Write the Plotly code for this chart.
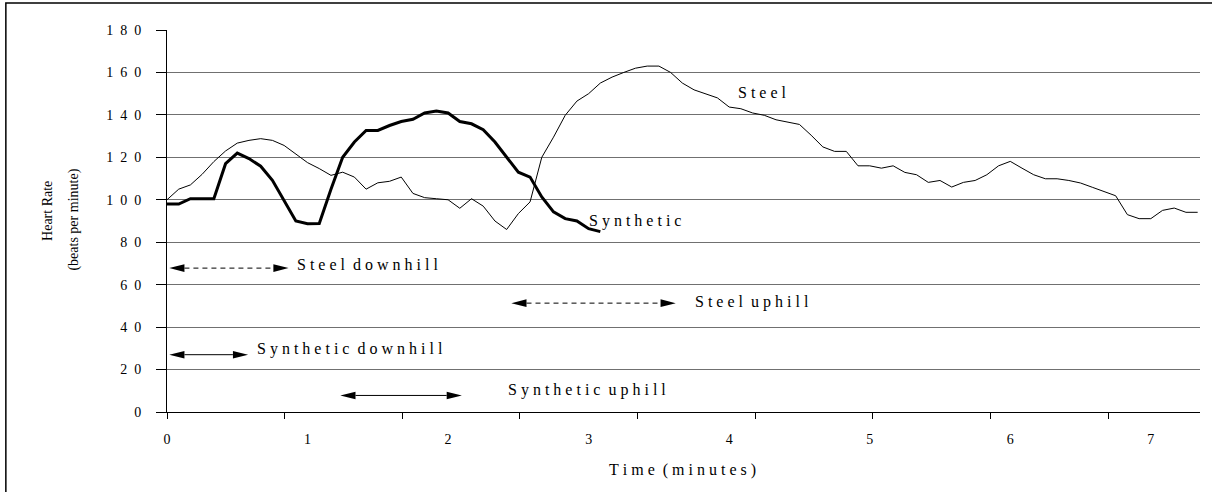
"""
Heart rate while walking on steel vs synthetic surfaces
"""

import plotly.graph_objects as go

# heart rate samples, one every 5 seconds (beats per minute)
SAMPLE_SECONDS = 5

STEEL_HR = [
    100, 105, 107, 112, 118, 123, 126.7, 128, 128.8, 128, 125.6, 121.7,
    117.5, 114.7, 111.5, 113, 110.7, 105, 108, 108.7, 110.7, 103, 101, 100.5,
    100, 96, 100.5, 97, 90, 86, 93.5, 99, 120, 129.5, 139.8, 146.5,
    150, 155, 157.8, 160, 162, 163, 163, 160, 155, 151.8, 150, 148,
    143.7, 142.9, 140.9, 139.8, 137.7, 136.6, 135.5, 130.4, 124.9, 122.8, 122.8, 116,
    116, 114.9, 116, 112.9, 111.8, 108.2, 109.1, 106, 108.2, 109.1, 111.8, 116,
    118.1, 114.9, 111.8, 109.9, 109.9, 109.1, 107.9, 105.9, 103.8, 101.9, 93, 91.1,
    91.1, 95, 96.1, 94.1, 94.1,
]

SYNTHETIC_HR = [
    98, 98, 100.5, 100.5, 100.5, 117, 122, 119.4, 115.8, 109.2, 99.8, 90,
    88.7, 88.8, 105, 120, 127.2, 132.7, 132.7, 135, 136.9, 137.9, 140.9, 141.8,
    140.9, 136.9, 135.8, 133, 127.2, 120, 113, 110.7, 101.3, 94.3, 91.1, 90,
    86.4, 85,
]

X_TICKS = [0, 1, 2, 3, 4, 5, 6, 7]
Y_TICKS = [0, 20, 40, 60, 80, 100, 120, 140, 160, 180]

# walking segments (minutes)
SEGMENT_NAMES = ["Steel downhill", "Steel uphill", "Synthetic downhill", "Synthetic uphill"]
SEGMENT_START = [0.016, 2.45, 0.016, 1.233]
SEGMENT_END = [0.865, 3.62, 0.577, 2.098]

# drawing levels / label spots for the segment arrows
SEGMENT_LEVEL = [67.8, 51.3, 27, 7.8]
SEGMENT_DASH = ["5px,4px", "5px,4px", "solid", "solid"]
SEGMENT_LABEL_X = [0.913, 3.745, 0.624, 2.413]
SEGMENT_LABEL_Y = [69.5, 52, 29.5, 10.5]

FONT = "Liberation Serif"
X_MAX = 7.35


def spaced(text, gap="\u2005"):
    """Mimic the wide letter spacing of the original chart"""
    return gap.join(text).replace(gap + " " + gap, gap + " ")


def minutes(values):
    return [i * SAMPLE_SECONDS / 60 for i in range(len(values))]


fig = go.Figure()

fig.add_trace(go.Scatter(
    x=minutes(STEEL_HR), y=STEEL_HR, mode="lines",
    line=dict(color="black", width=1), name="Steel"
))
fig.add_trace(go.Scatter(
    x=minutes(SYNTHETIC_HR), y=SYNTHETIC_HR, mode="lines",
    line=dict(color="black", width=3), name="Synthetic"
))
# empty trace so the tick-mark axis gets drawn
fig.add_trace(go.Scatter(x=[], y=[], xaxis="x2", showlegend=False))

head_len = 0.108
head_half = 1.8
shapes = []
for name, x0, x1, lvl, dash, lx, ly in zip(SEGMENT_NAMES, SEGMENT_START, SEGMENT_END,
                                           SEGMENT_LEVEL, SEGMENT_DASH,
                                           SEGMENT_LABEL_X, SEGMENT_LABEL_Y):
    fig.add_trace(go.Scatter(
        x=[x0 + head_len, x1 - head_len], y=[lvl, lvl], mode="lines",
        line=dict(color="black", width=1, dash=dash), showlegend=False
    ))
    shapes.append(dict(
        type="path", xref="x", yref="y", fillcolor="black", line=dict(width=0),
        path=f"M{x0},{lvl} L{x0 + head_len},{lvl + head_half} L{x0 + head_len},{lvl - head_half} Z"
    ))
    shapes.append(dict(
        type="path", xref="x", yref="y", fillcolor="black", line=dict(width=0),
        path=f"M{x1},{lvl} L{x1 - head_len},{lvl + head_half} L{x1 - head_len},{lvl - head_half} Z"
    ))
    fig.add_annotation(
        x=lx, y=ly, text=spaced(name), showarrow=False,
        xanchor="left", yanchor="middle", font=dict(size=16)
    )

# outer frame
shapes.append(dict(
    type="rect", xref="paper", yref="paper",
    x0=-0.156, x1=1.05, y0=-0.25, y1=1.071,
    line=dict(color="black", width=1.5), layer="below"
))

fig.add_annotation(x=4.05, y=150.6, text=spaced("Steel"), showarrow=False,
                   xanchor="left", yanchor="middle", font=dict(size=16))
fig.add_annotation(x=2.99, y=90, text=spaced("Synthetic"), showarrow=False,
                   xanchor="left", yanchor="middle", font=dict(size=16))

# axis titles
fig.add_annotation(x=-0.1255, y=0.526, xref="paper", yref="paper", text="Heart Rate",
                   textangle=-90, showarrow=False, font=dict(size=14))
fig.add_annotation(x=-0.1000, y=0.503, xref="paper", yref="paper", text="(beats per minute)",
                   textangle=-90, showarrow=False, font=dict(size=14))
fig.add_annotation(x=0.499, y=-0.152, xref="paper", yref="paper", text=spaced("Time (minutes)"),
                   showarrow=False, yanchor="middle", font=dict(size=16))

fig.update_layout(
    width=1212,
    height=492,
    margin=dict(l=167, r=12, t=30, b=80),
    paper_bgcolor="white",
    plot_bgcolor="white",
    showlegend=False,
    font=dict(family=FONT, color="black"),
    shapes=shapes,
    xaxis=dict(
        range=[0, X_MAX], tickvals=X_TICKS, ticktext=[str(v) for v in X_TICKS],
        ticks="", showgrid=False, zeroline=False,
        showline=True, linecolor="black", linewidth=1,
        ticklabelstandoff=14, tickfont=dict(size=14)
    ),
    xaxis2=dict(
        overlaying="x", anchor="y", side="bottom", range=[0, X_MAX],
        tick0=0, dtick=0.837, ticks="outside", ticklen=6, tickcolor="black",
        showticklabels=False, showgrid=False, zeroline=False, showline=False
    ),
    yaxis=dict(
        range=[0, 180], tickvals=Y_TICKS,
        ticktext=["\u2002".join(str(v)) for v in Y_TICKS],
        ticks="outside", ticklen=10, tickcolor="black",
        showgrid=True, gridcolor="#707070", gridwidth=1, zeroline=False,
        showline=True, linecolor="black", linewidth=1,
        ticklabelstandoff=12, tickfont=dict(size=14)
    ),
)

fig.write_html(
    "out.html",
    config={"displayModeBar": False},
    post_script="document.body.style.margin='0';",
)
